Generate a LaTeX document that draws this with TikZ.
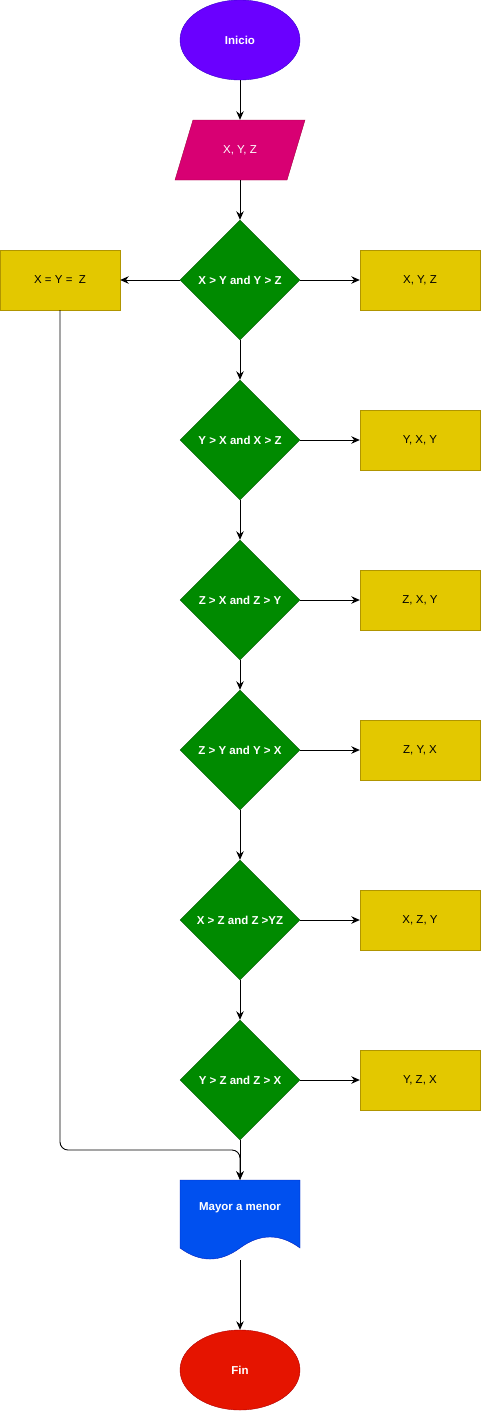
\documentclass[tikz,border=0pt]{standalone}
\usepackage{fontspec}
\setmainfont{Liberation Sans}
\usepackage{xcolor}
\usetikzlibrary{shapes.geometric,arrows.meta}
\definecolor{startfill}{HTML}{6A00FF}
\definecolor{startline}{HTML}{3700CC}
\definecolor{infill}{HTML}{D80073}
\definecolor{inline}{HTML}{A50040}
\definecolor{condfill}{HTML}{008A00}
\definecolor{condline}{HTML}{005700}
\definecolor{outfill}{HTML}{E3C800}
\definecolor{outline}{HTML}{B09500}
\definecolor{docfill}{HTML}{0050EF}
\definecolor{docline}{HTML}{001DBC}
\definecolor{endfill}{HTML}{E51400}
\definecolor{endline}{HTML}{B20000}

\begin{document}
\begin{tikzpicture}[x=1pt,y=-1pt]
                \tikzstyle{every node}+=[inner sep=0pt]
                \tikzstyle{txt}=[font=\fontsize{11.5}{13}\selectfont]
                \tikzstyle{txtb}=[font=\fontsize{11.5}{13}\selectfont\bfseries]
                \tikzstyle{term}=[ellipse, minimum width=120pt, minimum height=80pt, text=white, txtb]
                \tikzstyle{cond}=[diamond, aspect=1, minimum width=120pt, minimum height=120pt, fill=condfill, draw=condline, text=white, txtb]
                \tikzstyle{outbox}=[rectangle, minimum width=120pt, minimum height=60pt, fill=outfill, draw=outline, text=black, txt]
                \tikzstyle{flow}=[draw=black, line width=0.9pt, -{Stealth[length=8.5pt,width=7.5pt]}]
                \useasboundingbox (0,0) rectangle (481,1411);
                \node [term, fill=startfill, draw=startline] (start) at (240,40) {Inicio};
                \draw [fill=infill, draw=inline] (175,180) -- (193,120) -- (305,120) -- (287,180) -- cycle;
                \node [minimum width=112pt, minimum height=60pt, text=white, txt] (input) at (240,150) {X, Y, Z};
                \node [cond] (c1) at (240,280) {X > Y and Y > Z};
                \node [outbox] (same) at (60,280) {X = Y = \ Z};
                \node [outbox] (o1) at (420,280) {X, Y, Z};
                \node [cond] (c2) at (240,440) {Y > X and X > Z};
                \node [outbox] (o2) at (420,440) {Y, X, Y};
                \node [cond] (c3) at (240,600) {Z > X and Z > Y};
                \node [outbox] (o3) at (420,600) {Z, X, Y};
                \node [cond] (c4) at (240,750) {Z > Y and Y > X};
                \node [outbox] (o4) at (420,750) {Z, Y, X};
                \node [cond] (c5) at (240,920) {X > Z and Z >YZ};
                \node [outbox] (o5) at (420,920) {X, Z, Y};
                \node [cond] (c6) at (240,1080) {Y > Z and Z > X};
                \node [outbox] (o6) at (420,1080) {Y, Z, X};
                \node [minimum width=120pt, minimum height=80pt] (doc) at (240,1220) {};
                \draw [fill=docfill, draw=docline] (180,1180) -- (300,1180) -- (300,1248)
                    .. controls (280,1233.3) and (260,1233.3) .. (240,1248)
                    .. controls (220,1262.7) and (200,1262.7) .. (180,1248) -- cycle;
                \node [txtb, text=white] (doctext) at (240,1208) {Mayor a menor};
                \node [term, fill=endfill, draw=endline] (fin) at (240,1370) {Fin};
                \coordinate (join) at (240,1150);
                \draw [flow] (start) -- (input);
                \draw [flow] (input) -- (c1);
                \draw [flow] (c1) -- (same);
                \draw [flow] (c1) -- (o1);
                \draw [flow] (c1) -- (c2);
                \draw [flow] (c2) -- (o2);
                \draw [flow] (c2) -- (c3);
                \draw [flow] (c3) -- (o3);
                \draw [flow] (c3) -- (c4);
                \draw [flow] (c4) -- (o4);
                \draw [flow] (c4) -- (c5);
                \draw [flow] (c5) -- (o5);
                \draw [flow] (c5) -- (c6);
                \draw [flow] (c6) -- (o6);
                \draw [flow] (c6) -- (doc.north);
                \draw [flow, rounded corners=8pt] (same) |- (join) -- (doc.north);
                \draw [flow] (doc.south) -- (fin);
\end{tikzpicture}
\end{document}
